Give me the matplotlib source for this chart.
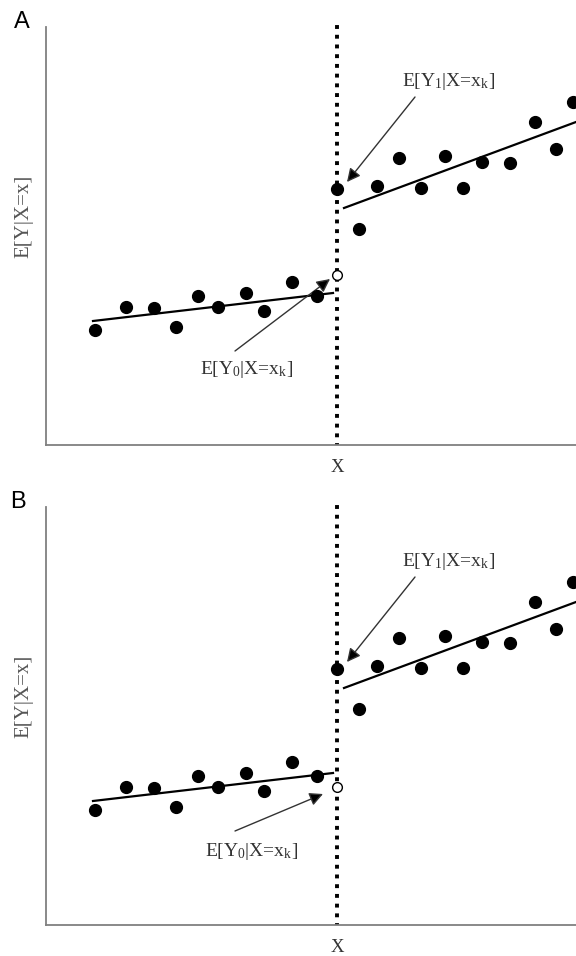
import matplotlib
matplotlib.use('Agg')
import matplotlib.pyplot as plt

plt.rcParams['font.family'] = 'Liberation Serif'
plt.rcParams['mathtext.fontset'] = 'custom'
plt.rcParams['mathtext.rm'] = 'Liberation Serif'
plt.rcParams['mathtext.it'] = 'Liberation Serif'

# scatter data (arbitrary units, same in both panels)
left_x = [49, 80, 108, 130, 152, 172, 200, 218, 246, 271]
left_y = [115, 138, 137, 118, 149, 138, 152, 134, 163, 149]
right_x = [291, 313, 331, 353, 375, 399, 417, 436, 464, 489, 510, 527]
right_y = [256, 216, 259, 287, 257, 289, 257, 283, 282, 323, 296, 343]
cutoff = 291

# fitted lines
left_fit_x = [47, 287]
left_fit_y = [124, 152]
right_fit_x = [298, 530]
right_fit_y = [237, 323]

# counterfactual (open circle) per panel
open_y = {'A': 170, 'B': 138}
# E[Y0] annotation: text pos, arrow tail, arrow head
y0_text = {'A': (201, 75), 'B': (206, 73)}
y0_tail = {'A': (189, 94), 'B': (189, 94)}
y0_head = {'A': (284, 166), 'B': (277, 131)}
y1_text = (403, 364)
y1_tail = (369, 348)
y1_head = (301, 263)

W, H = 576, 956
fig = plt.figure(figsize=(W / 100, H / 100), dpi=100)

def draw_panel(letter, bottom_px):
    ax = fig.add_axes([46 / W, (H - bottom_px) / H, 530 / W, 423 / H])
    ax.set_xlim(0, 530)
    ax.set_ylim(0, 423)
    for s in ['top', 'right']:
        ax.spines[s].set_visible(False)
    for s in ['left', 'bottom']:
        ax.spines[s].set_color('#808080')
        ax.spines[s].set_linewidth(1.3)
    ax.spines['left'].set_bounds(0, 418)
    ax.set_xticks([])
    ax.set_yticks([])
    ax.patch.set_visible(False)

    ax.plot([cutoff, cutoff], [-2, 421], color='black', lw=2.8,
            linestyle=(0, (1, 1.5)), dash_capstyle='butt', zorder=2)
    ax.plot(left_fit_x, left_fit_y, color='black', lw=1.6, zorder=3)
    ax.plot(right_fit_x, right_fit_y, color='black', lw=1.6, zorder=3)
    ax.plot(left_x, left_y, 'o', color='black', ms=8.5, zorder=4, clip_on=False)
    ax.plot(right_x, right_y, 'o', color='black', ms=8.5, zorder=4, clip_on=False)
    ax.plot([cutoff], [open_y[letter]], 'o', mfc='white', mec='black',
            mew=1.0, ms=7, zorder=5)

    arrow = dict(arrowstyle='-|>', fc='black', ec='#333333', lw=1.0,
                 mutation_scale=20, shrinkA=0, shrinkB=0)
    ax.annotate('', xy=y1_head, xytext=y1_tail, arrowprops=arrow)
    ax.text(*y1_text, r'E[Y$_1$|X=x$_\mathrm{k}$]', ha='center', va='center',
            fontsize=14, color='#333333')
    ax.annotate('', xy=y0_head[letter], xytext=y0_tail[letter], arrowprops=arrow)
    ax.text(*y0_text[letter], r'E[Y$_0$|X=x$_\mathrm{k}$]', ha='center',
            va='center', fontsize=14, color='#333333')

    # axis labels and panel letter
    top = bottom_px - 445
    fig.text(337 / W, 1 - (top + 467) / H, 'X', ha='center', va='center',
             fontsize=13.5, color='#333333')
    fig.text(24 / W, 1 - (top + 216) / H, 'E[Y|X=x]', ha='center', va='center',
             rotation=90, fontsize=15, color='#555555')
    fig.text((22 if letter == 'A' else 18) / W, 1 - (top + 22) / H, letter,
             ha='center', va='center', fontsize=17, family='Liberation Sans')
    return ax

draw_panel('A', 445)
draw_panel('B', 925)

fig.savefig('out.png', dpi=100)
